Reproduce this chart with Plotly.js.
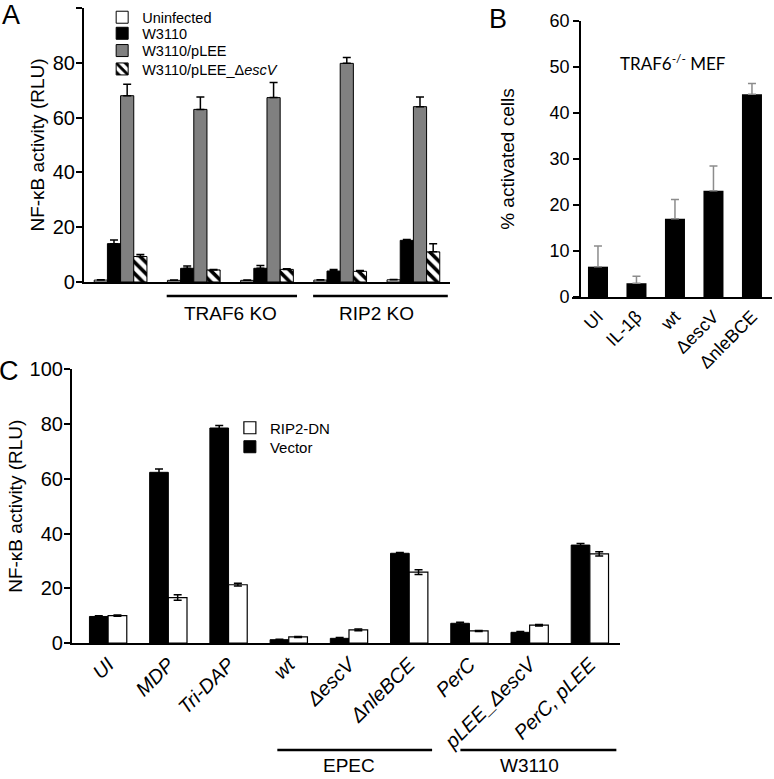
<!DOCTYPE html>
<html>
<head>
<meta charset="utf-8">
<script src="https://cdn.plot.ly/plotly-3.0.1.min.js"></script>
<style>
  body { margin: 0; background: #fff; }
  #myDiv { width: 774px; height: 779px; }
</style>
</head>
<body>
<div id="myDiv"></div>
<script>
//---------------------- DATA ---------------------------

// panel A : NF-kB reporter, WT / TRAF6 KO / RIP2 KO cells
var groupsA = ['WT', 'TRAF6 KO #1', 'TRAF6 KO #2', 'RIP2 KO #1', 'RIP2 KO #2'];
var uninfA = [0.7, 0.6, 0.6, 0.7, 0.8];
var uninfErrA = [0.1, 0.1, 0.1, 0.1, 0.1];
var w3110A = [14, 5, 5, 4, 15.2];
var w3110ErrA = [1.3, 0.8, 1.0, 0.6, 0.3];
var pleeA = [68, 63, 67.3, 79.8, 64];
var pleeErrA = [4.2, 4.5, 5.5, 2.1, 3.5];
var escvA = [9.3, 4.4, 4.6, 3.9, 11];
var escvErrA = [0.7, 0.2, 0.2, 0.3, 3];

// panel B : TRAF6-/- MEF, % activated cells
var catB = ['UI', 'IL-1β', 'wt', 'ΔescV', 'ΔnleBCE'];
var valB = [6.6, 3.0, 17, 23.1, 44.1];
var errB = [4.5, 1.5, 4.2, 5.4, 2.3];

// panel C : RIP2-DN vs vector
var catC = ['UI', 'MDP', 'Tri-DAP', 'wt', 'ΔescV', 'ΔnleBCE', 'PerC', 'pLEE_ΔescV', 'PerC, pLEE'];
var vectorC = [9.7, 62.4, 78.6, 1.2, 1.7, 32.8, 7.2, 3.9, 35.8];
var vectorErrC = [0.3, 1.2, 0.9, 0.2, 0.3, 0.3, 0.4, 0.3, 0.6];
var ripC = [10, 16.6, 21.3, 2.2, 4.8, 25.9, 4.4, 6.5, 32.6];
var ripErrC = [0.2, 1.0, 0.5, 0.2, 0.3, 0.9, 0.2, 0.3, 0.8];

//---------------------- TRACES ---------------------------

var FONT = 'Arial, "Liberation Sans", sans-serif';

function upErr(arr, color) {
  return {
    type: 'data', array: arr, symmetric: false,
    arrayminus: arr.map(function () { return 0; }),
    color: color, thickness: 1.5, width: 4
  };
}

// every legend entry gets its own little legend so the row spacing can match
function barA(name, y, err, offset, legend, marker) {
  return {
    type: 'bar', x: groupsA, y: y, name: name,
    xaxis: 'x', yaxis: 'y', legend: legend,
    width: 0.18, offset: offset,
    marker: marker,
    error_y: upErr(err, 'black'),
    hoverinfo: 'name+y'
  };
}

var traceA1 = barA('Uninfected', uninfA, uninfErrA, -0.36, 'legend',
  {color: 'white', line: {color: 'black', width: 1}});
var traceA2 = barA('W3110', w3110A, w3110ErrA, -0.18, 'legend2',
  {color: 'black', line: {color: 'black', width: 1}});
var traceA3 = barA('W3110/pLEE', pleeA, pleeErrA, 0, 'legend3',
  {color: '#808080', line: {color: 'black', width: 1}});
var traceA4 = barA('W3110/pLEE_Δ<i>escV</i>', escvA, escvErrA, 0.18, 'legend4',
  {color: 'white', line: {color: 'black', width: 1},
   pattern: {shape: '\\', fgcolor: 'black', bgcolor: 'white', size: 8, solidity: 0.45}});

var traceB = {
  type: 'bar', x: catB, y: valB, name: '% activated',
  xaxis: 'x2', yaxis: 'y2', showlegend: false,
  width: 0.52,
  marker: {color: 'black'},
  error_y: upErr(errB, '#8c8c8c')
};

var traceC1 = {
  type: 'bar', x: catC, y: vectorC, name: 'Vector',
  xaxis: 'x3', yaxis: 'y3', legend: 'legend6',
  width: 0.31, offset: -0.31,
  marker: {color: 'black', line: {color: 'black', width: 1}},
  error_y: {type: 'data', array: vectorErrC, color: 'black', thickness: 1.5, width: 4}
};
var traceC2 = {
  type: 'bar', x: catC, y: ripC, name: 'RIP2-DN',
  xaxis: 'x3', yaxis: 'y3', legend: 'legend5',
  width: 0.31, offset: 0,
  marker: {color: 'white', line: {color: 'black', width: 1.2}},
  error_y: {type: 'data', array: ripErrC, color: 'black', thickness: 1.5, width: 4}
};

var data = [traceA1, traceA2, traceA3, traceA4, traceB, traceC1, traceC2];

//---------------------- LAYOUT ---------------------------

function yAxis(extra, size, standoff, title) {
  var o = {
    showline: true, linecolor: 'black', linewidth: 2,
    ticks: 'outside', ticklen: 6, tickwidth: 2, tickcolor: 'black',
    showgrid: false, zeroline: false,
    tickfont: {family: FONT, size: size, color: 'black'},
    title: {text: title, standoff: standoff, font: {family: FONT, size: 19, color: 'black'}}
  };
  for (var k in extra) o[k] = extra[k];
  return o;
}

function oneLegend(x, y, size) {
  return {
    x: x, y: y, xanchor: 'left', yanchor: 'middle',
    bgcolor: 'rgba(0,0,0,0)', borderwidth: 0,
    font: {family: FONT, size: size, color: 'black'}
  };
}

function note(text, xref, x, y, size, yanchor, family) {
  return {
    text: text, xref: xref, yref: 'paper', x: x, y: y,
    xanchor: 'center', yanchor: yanchor || 'middle', showarrow: false,
    font: {family: family || FONT, size: size, color: 'black'}
  };
}

var layout = {
  width: 774, height: 779,
  margin: {l: 0, r: 0, t: 0, b: 0},
  paper_bgcolor: 'white', plot_bgcolor: 'white',
  font: {family: FONT, color: 'black'},
  barmode: 'overlay',

  xaxis: {
    domain: [0.1085, 0.5814], anchor: 'y', range: [-0.5, 4.5],
    showline: true, linecolor: 'black', linewidth: 2,
    showticklabels: false, ticks: '', showgrid: false, zeroline: false
  },
  yaxis: yAxis({
    domain: [0.638, 0.9897], anchor: 'x', range: [0, 100], dtick: 20,
    ticklabelstandoff: -3
  }, 20, 3, 'NF-κB activity (RLU)'),

  xaxis2: {
    domain: [0.739, 0.9974], anchor: 'y2', range: [-0.675, 4.52],
    showline: true, linecolor: 'black', linewidth: 2,
    ticks: '', showgrid: false, zeroline: false, tickangle: -45,
    tickfont: {family: FONT, size: 18, color: 'black'}
  },
  yaxis2: yAxis({
    domain: [0.6187, 0.973], anchor: 'free', position: 0.7494,
    range: [0, 60], dtick: 10
  }, 18, 29, '% activated cells'),

  xaxis3: {
    domain: [0.093, 0.801], anchor: 'y3', range: [-0.6, 8.5],
    showline: true, linecolor: 'black', linewidth: 2,
    ticks: '', showgrid: false, zeroline: false, tickangle: -45,
    tickfont: {family: FONT, size: 20, color: 'black', style: 'italic'}
  },
  yaxis3: yAxis({
    domain: [0.1746, 0.5257], anchor: 'x3', range: [0, 100], dtick: 20,
    ticklabelstandoff: -3
  }, 20, 2, 'NF-κB activity (RLU)'),

  legend: oneLegend(0.132, 0.9778, 14.5),
  legend2: oneLegend(0.132, 0.9572, 14.5),
  legend3: oneLegend(0.132, 0.935, 14.5),
  legend4: oneLegend(0.132, 0.9114, 14.5),
  legend5: oneLegend(0.297, 0.4506, 15),
  legend6: oneLegend(0.297, 0.4262, 15),

  shapes: [
    {type: 'line', xref: 'x', yref: 'paper', x0: 0.63, x1: 2.41, y0: 0.62, y1: 0.62, line: {color: 'black', width: 2.5}},
    {type: 'line', xref: 'x', yref: 'paper', x0: 2.63, x1: 4.47, y0: 0.62, y1: 0.62, line: {color: 'black', width: 2.5}},
    {type: 'line', xref: 'x3', yref: 'paper', x0: 2.81, x1: 5.38, y0: 0.0372, y1: 0.0372, line: {color: 'black', width: 2.5}},
    {type: 'line', xref: 'x3', yref: 'paper', x0: 5.85, x1: 8.44, y0: 0.0372, y1: 0.0372, line: {color: 'black', width: 2.5}}
  ],

  annotations: [
    note('A', 'paper', 0.0145, 0.981, 27),
    note('B', 'paper', 0.643, 0.975, 27),
    note('C', 'paper', 0.012, 0.524, 27),
    note('TRAF6 KO', 'x', 1.5, 0.598, 19),
    note('RIP2 KO', 'x', 3.5, 0.598, 19),
    note('TRAF6<sup>-/-</sup> MEF', 'paper', 0.8695, 0.92, 17, 'middle', 'Lato, "Open Sans", sans-serif'),
    note('EPEC', 'x3', 4, 0.001, 19, 'bottom'),
    note('W3110', 'x3', 7, 0.001, 19, 'bottom')
  ]
};

Plotly.newPlot('myDiv', data, layout, {displayModeBar: false, staticPlot: true});
</script>
</body>
</html>
